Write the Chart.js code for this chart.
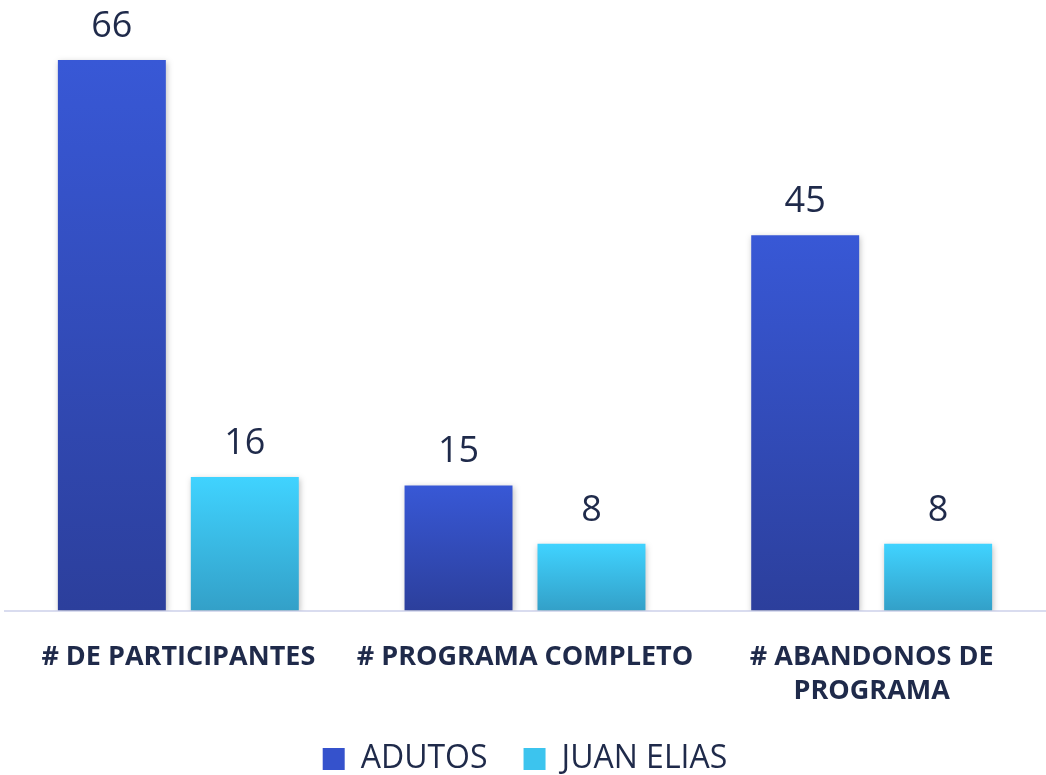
<!DOCTYPE html>
<html>
<head>
<meta charset="utf-8">
<script src="https://cdn.jsdelivr.net/npm/chart.js@4/dist/chart.umd.min.js"></script>
<style>
  html, body { margin: 0; padding: 0; background: #fff; }
  #wrap { width: 1046px; height: 775px; }
</style>
</head>
<body>
<div id="wrap"><canvas id="chart"></canvas></div>
<script>
// chart data
const categories = [['# DE PARTICIPANTES'], ['# PROGRAMA COMPLETO'], ['# ABANDONOS DE', 'PROGRAMA']];
const adutos = [66, 15, 45];
const juanElias = [16, 8, 8];
const seriesNames = ['ADUTOS', 'JUAN ELIAS'];

const textColor = '#1f2a4a';

// vertical gradient per bar, light on top
function barGradient(top, bottom) {
    return function (ctx) {
        const chart = ctx.chart;
        const yScale = chart.scales.y;
        if (!chart.chartArea || !yScale || ctx.raw === undefined) return top;
        const y0 = yScale.getPixelForValue(ctx.raw);
        const y1 = yScale.getPixelForValue(0);
        if (!isFinite(y0) || !isFinite(y1) || y1 <= y0) return top;
        const g = chart.ctx.createLinearGradient(0, y0, 0, y1);
        g.addColorStop(0, top);
        g.addColorStop(1, bottom);
        return g;
    };
}

// value labels above bars
const valueLabels = {
    id: 'valueLabels',
    afterDatasetsDraw(chart) {
        const ctx = chart.ctx;
        ctx.save();
        ctx.font = '36px "Open Sans"';
        ctx.fillStyle = textColor;
        ctx.textAlign = 'center';
        ctx.textBaseline = 'alphabetic';
        chart.data.datasets.forEach((ds, i) => {
            chart.getDatasetMeta(i).data.forEach((bar, j) => {
                ctx.fillText(ds.data[j], bar.x, bar.y - 23);
            });
        });
        ctx.restore();
    }
};

// soft shadow under bars
const barShadow = {
    id: 'barShadow',
    beforeDatasetsDraw(chart) {
        const ctx = chart.ctx;
        ctx.save();
        ctx.shadowColor = 'rgba(0,0,0,0.25)';
        ctx.shadowBlur = 6;
        ctx.shadowOffsetX = 1;
        ctx.shadowOffsetY = 2;
    },
    afterDatasetsDraw(chart) {
        chart.ctx.restore();
    }
};

new Chart(document.getElementById('chart'), {
    type: 'bar',
    data: {
        labels: categories,
        datasets: [
            {
                label: seriesNames[0],
                data: adutos,
                backgroundColor: barGradient('#3858d6', '#2c3f9c'),
                legendColor: '#3552cc'
            },
            {
                label: seriesNames[1],
                data: juanElias,
                backgroundColor: barGradient('#40d3ff', '#33a0c8'),
                legendColor: '#3cc4ee'
            }
        ]
    },
    options: {
        responsive: true,
        maintainAspectRatio: false,
        animation: false,
        layout: { padding: { left: 5, right: 1, top: 0, bottom: -10 } },
        datasets: {
            bar: { barPercentage: 0.812, categoryPercentage: 0.767 }
        },
        plugins: {
            tooltip: { enabled: false },
            legend: {
                position: 'bottom',
                labels: {
                    font: { family: 'Open Sans', size: 32 },
                    color: textColor,
                    boxWidth: 22,
                    boxHeight: 22,
                    padding: 36,
                    generateLabels(chart) {
                        return chart.data.datasets.map((ds, i) => ({
                            text: ds.label,
                            fillStyle: ds.legendColor,
                            strokeStyle: ds.legendColor,
                            lineWidth: 0,
                            fontColor: textColor,
                            datasetIndex: i
                        }));
                    }
                }
            }
        },
        scales: {
            x: {
                grid: { display: false },
                border: { display: true, color: '#d9dcef', width: 2 },
                ticks: {
                    color: textColor,
                    font: { family: 'Open Sans', size: 27, weight: 'bold', lineHeight: 1.25 },
                    padding: 22,
                    maxRotation: 0,
                    autoSkip: false
                },
                // labels may hang into the legend gap
                afterFit(scale) { scale.height -= 23; }
            },
            y: {
                display: false,
                min: 0,
                max: 73.2
            }
        }
    },
    plugins: [barShadow, valueLabels]
});
</script>
</body>
</html>
